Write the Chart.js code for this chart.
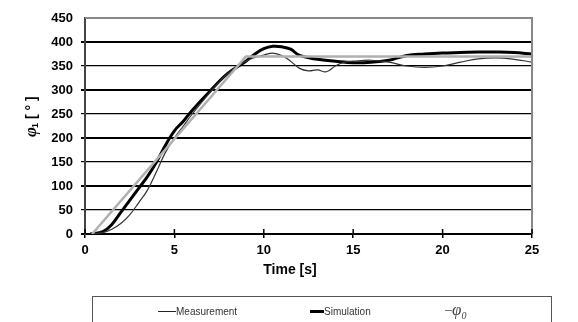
<!DOCTYPE html>
<html>
<head>
<meta charset="utf-8">
<script src="https://cdn.jsdelivr.net/npm/chart.js@4"></script>
<style>
  html, body { margin: 0; padding: 0; background: #fff; }
  #wrap { position: relative; width: 578px; height: 322px; overflow: hidden; }
  #legend {
    position: absolute; left: 92px; top: 296px; width: 460px; height: 40px;
    border: 1px solid #555; box-sizing: border-box;
    font-family: "Liberation Sans", Arial, sans-serif; font-size: 10px; color: #333;
  }
  .item { position: absolute; top: 9px; display: flex; align-items: center; }
  .swatch { display: inline-block; }
</style>
</head>
<body>
<div id="wrap">
  <canvas id="chart" width="578" height="322"></canvas>
  <div id="legend">
    <div class="item" style="left:65px"><span class="swatch" style="width:18px;border-top:1px solid #222"></span>Measurement</div>
    <div class="item" style="left:217px"><span class="swatch" style="width:14px;border-top:3px solid #000"></span>Simulation</div>
    <div class="item" style="left:352px;top:3px"><span class="swatch" style="width:7px;border-top:1px solid #777"></span><span style="font-family:'Liberation Serif',serif;font-style:italic;font-size:17px;color:#444">φ<sub style="font-size:10px">0</sub></span></div>
  </div>
</div>
<script>
// time axis [s]
const measTime = [0.3, 1, 1.5, 2, 2.5, 3, 3.5, 4, 4.5, 5, 5.5, 6, 7, 8, 9, 9.5, 10, 10.5, 11, 11.5, 12, 12.5, 13, 13.5, 14, 14.5, 15, 16, 17, 18, 19, 20, 21, 22, 23, 24, 25];
const measValues = [0, 3, 10, 22, 40, 65, 92, 130, 170, 200, 225, 250, 295, 335, 360, 368, 373, 377, 372, 360, 345, 340, 342, 338, 350, 358, 360, 362, 358, 350, 347, 350, 358, 365, 367, 364, 358];

const simTime = [0.3, 1, 1.5, 2, 2.5, 3, 3.5, 4, 4.5, 5, 5.5, 6, 7, 8, 9, 9.5, 10, 10.5, 11, 11.5, 12, 13, 14, 15, 16, 17, 18, 19, 20, 21, 22, 23, 24, 25];
const simValues = [0, 5, 20, 45, 70, 95, 120, 150, 185, 215, 235, 258, 298, 335, 360, 375, 386, 391, 390, 385, 372, 364, 360, 357, 358, 362, 372, 375, 377, 378, 379, 379, 378, 375];

const refTime = [0.4, 9, 25];
const refValues = [0, 370, 370];

const xTicks = [0, 5, 10, 15, 20, 25];
const yMax = 450;

function points(t, v) {
    return t.map((x, i) => ({ x: x, y: v[i] }));
}

// frame, tick crossings and axis titles
const framePlugin = {
    id: 'frame',
    afterDraw(chart) {
        const ctx = chart.ctx;
        const a = chart.chartArea;
        const xs = chart.scales.x;
        ctx.save();
        ctx.strokeStyle = '#888';
        ctx.lineWidth = 2;
        ctx.beginPath();
        ctx.moveTo(a.left, a.top);
        ctx.lineTo(a.right, a.top);
        ctx.lineTo(a.right, a.bottom);
        ctx.stroke();
        ctx.strokeStyle = '#000';
        ctx.lineWidth = 1.5;
        xTicks.forEach(t => {
            const px = xs.getPixelForValue(t);
            ctx.beginPath();
            ctx.moveTo(px, a.bottom - 5);
            ctx.lineTo(px, a.bottom);
            ctx.stroke();
        });
        ctx.fillStyle = '#000';
        ctx.font = 'bold 14px "Liberation Sans", Arial, sans-serif';
        ctx.textAlign = 'center';
        ctx.textBaseline = 'middle';
        ctx.fillText('Time [s]', 290, 270);
        ctx.translate(32, 117);
        ctx.rotate(-Math.PI / 2);
        ctx.textAlign = 'left';
        ctx.font = 'bold italic 17px "Liberation Serif", serif';
        ctx.fillText('φ', -20, 0);
        ctx.font = 'bold 9px "Liberation Sans", Arial, sans-serif';
        ctx.fillText('1', -11, 4);
        ctx.font = 'bold 14px "Liberation Sans", Arial, sans-serif';
        ctx.fillText(' [ ° ]', -6, 0);
        ctx.restore();
    }
};

new Chart(document.getElementById('chart'), {
    type: 'line',
    data: {
        datasets: [
            { label: 'φ0', data: points(refTime, refValues), borderColor: '#b0b0b0', borderWidth: 2.5, pointRadius: 0, tension: 0 },
            { label: 'Measurement', data: points(measTime, measValues), borderColor: '#333', borderWidth: 1.2, pointRadius: 0, tension: 0.4 },
            { label: 'Simulation', data: points(simTime, simValues), borderColor: '#000', borderWidth: 3, pointRadius: 0, tension: 0.4 }
        ]
    },
    options: {
        responsive: false,
        animation: false,
        layout: { padding: { top: 18, right: 46, bottom: 28, left: 0 } },
        plugins: { legend: { display: false }, tooltip: { enabled: false } },
        scales: {
            x: {
                type: 'linear',
                min: 0,
                max: 25,
                afterBuildTicks: s => { s.ticks = xTicks.map(v => ({ value: v })); },
                afterFit: s => { s.height = 60; },
                grid: { drawOnChartArea: false, color: '#000', lineWidth: 1.5, tickLength: 4 },
                border: { color: '#000', width: 2 },
                ticks: { color: '#000', padding: 5, font: { family: '"Liberation Sans", Arial, sans-serif', size: 13, weight: 'bold' } }
            },
            y: {
                min: 0,
                max: yMax,
                afterFit: s => { s.width = 85; },
                ticks: { stepSize: 50, color: '#000', padding: 8, font: { family: '"Liberation Sans", Arial, sans-serif', size: 13, weight: 'bold' } },
                grid: {
                    color: c => c.tick.value === yMax ? 'rgba(0,0,0,0)' : '#000',
                    lineWidth: c => c.tick.value % 100 === 0 ? 2 : 1.2,
                    tickLength: 4
                },
                border: { color: '#444', width: 2 }
            }
        }
    },
    plugins: [framePlugin]
});
</script>
</body>
</html>
